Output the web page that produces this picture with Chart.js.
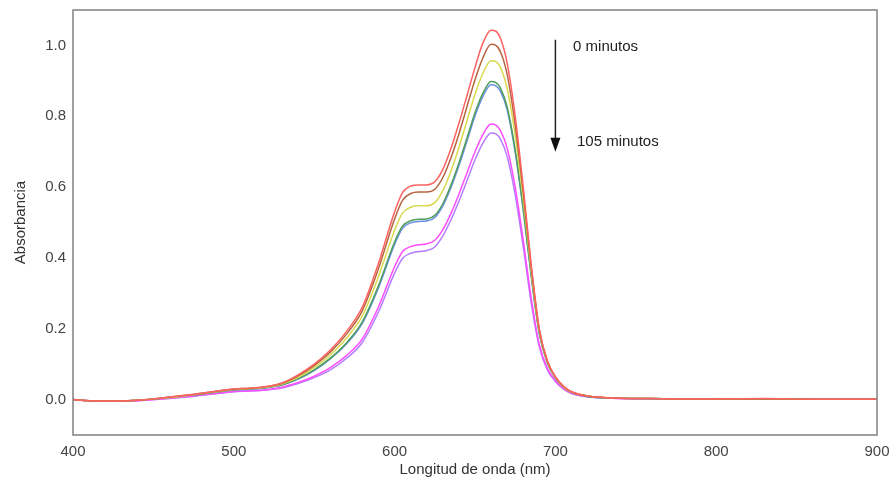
<!DOCTYPE html>
<html>
<head>
<meta charset="utf-8">
<script src="https://cdn.jsdelivr.net/npm/chart.js@4/dist/chart.umd.min.js"></script>
<style>
    html, body { margin: 0; padding: 0; background: #fff; }
    #wrap { width: 891px; height: 482px; }
</style>
</head>
<body>
<div id="wrap"><canvas id="chartAbs"></canvas></div>
<script>
// longitudes de onda (nm)
const wavelengths = [400,410,420,430,440,450,460,470,480,490,500,510,520,530,540,550,560,570,580,590,
    600,605,610,615,620,625,630,635,640,645,650,655,660,663,666,670,675,680,685,690,695,700,705,710,
    720,730,740,760,780,800,830,860,900];

// absorbancia de cada espectro (0 -> 105 minutos)
const abs0 = [0.000,-0.003,-0.004,-0.004,-0.002,0.002,0.007,0.012,0.018,0.024,0.030,0.032,0.037,0.047,0.070,0.100,0.140,0.192,0.262,0.385,
    0.530,0.585,0.603,0.606,0.606,0.615,0.650,0.708,0.780,0.858,0.938,1.008,1.043,1.040,1.018,0.950,0.800,0.600,0.380,0.200,0.110,0.065,0.038,0.022,
    0.010,0.006,0.004,0.003,0.002,0.002,0.003,0.001,0.001];
const abs15 = [0.000,-0.003,-0.004,-0.004,-0.002,0.002,0.007,0.012,0.018,0.024,0.030,0.032,0.036,0.046,0.067,0.096,0.134,0.184,0.252,0.370,
    0.510,0.563,0.582,0.586,0.586,0.594,0.627,0.682,0.750,0.827,0.903,0.966,1.003,1.000,0.980,0.918,0.775,0.585,0.372,0.197,0.108,0.064,0.037,0.022,
    0.010,0.006,0.004,0.003,0.002,0.002,0.002,0.001,0.001];
const abs30 = [0.000,-0.003,-0.004,-0.004,-0.002,0.002,0.006,0.011,0.017,0.023,0.029,0.031,0.035,0.044,0.063,0.090,0.126,0.173,0.237,0.348,
    0.478,0.527,0.543,0.547,0.547,0.556,0.590,0.645,0.712,0.787,0.862,0.922,0.957,0.954,0.936,0.878,0.745,0.565,0.362,0.193,0.106,0.063,0.036,0.021,
    0.010,0.006,0.004,0.003,0.002,0.002,0.002,0.001,0.001];
const abs45 = [0.000,-0.003,-0.004,-0.004,-0.002,0.002,0.006,0.011,0.016,0.022,0.028,0.030,0.034,0.042,0.059,0.084,0.117,0.160,0.220,0.322,
    0.445,0.490,0.505,0.509,0.510,0.520,0.553,0.605,0.668,0.738,0.810,0.866,0.898,0.895,0.878,0.826,0.705,0.540,0.350,0.188,0.104,0.062,0.036,0.021,
    0.009,0.005,0.004,0.003,0.002,0.002,0.002,0.001,0.001];
const abs60 = [0.000,-0.003,-0.004,-0.004,-0.002,0.002,0.006,0.011,0.016,0.022,0.027,0.029,0.033,0.041,0.058,0.082,0.115,0.157,0.216,0.316,
    0.438,0.484,0.499,0.503,0.504,0.514,0.547,0.598,0.660,0.730,0.801,0.857,0.889,0.886,0.869,0.818,0.698,0.535,0.347,0.186,0.103,0.061,0.035,0.020,
    0.009,0.005,0.004,0.003,0.002,0.002,0.002,0.001,0.001];
const abs90 = [0.000,-0.003,-0.004,-0.004,-0.003,0.000,0.004,0.008,0.013,0.018,0.023,0.025,0.028,0.035,0.048,0.066,0.090,0.124,0.172,0.262,
    0.375,0.418,0.432,0.437,0.440,0.450,0.480,0.525,0.580,0.640,0.700,0.749,0.778,0.775,0.758,0.710,0.600,0.450,0.285,0.155,0.088,0.053,0.031,0.018,
    0.008,0.005,0.003,0.002,0.002,0.001,0.001,0.001,0.001];
const abs105 = [0.000,-0.003,-0.004,-0.004,-0.003,0.000,0.003,0.007,0.012,0.017,0.022,0.024,0.027,0.033,0.045,0.062,0.084,0.116,0.162,0.248,
    0.357,0.399,0.413,0.418,0.421,0.431,0.462,0.507,0.560,0.618,0.677,0.725,0.753,0.750,0.734,0.686,0.578,0.432,0.272,0.148,0.084,0.051,0.030,0.017,
    0.008,0.005,0.003,0.002,0.002,0.001,0.001,0.001,0.001];

const seriesNames = ['0 min', '15 min', '30 min', '45 min', '60 min', '90 min', '105 min'];
const seriesColors = ['#ff6262', '#b5653f', '#d9d94e', '#4f9f5c', '#6a8ee6', '#ff4dff', '#b47cff'];
const seriesValues = [abs0, abs15, abs30, abs45, abs60, abs90, abs105];

const xTicks = [400, 500, 600, 700, 800, 900];
const yTicks = [0, 0.2, 0.4, 0.6, 0.8, 1.0];

// flecha y textos de la anotación (en unidades de los ejes)
const arrowX = 700, arrowTop = 1.016, arrowTip = 0.70;
const noteTop = { x: 711, y: 0.996, text: '0 minutos' };
const noteBottom = { x: 713.4, y: 0.728, text: '105 minutos' };

const frameAndNotes = {
    id: 'frameAndNotes',
    afterDraw(chart) {
        const ctx = chart.ctx;
        const a = chart.chartArea;
        const xs = chart.scales.x, ys = chart.scales.y;
        ctx.save();
        // marco
        ctx.strokeStyle = '#808080';
        ctx.lineWidth = 1.5;
        ctx.strokeRect(a.left, a.top, a.right - a.left, a.bottom - a.top);
        // flecha
        const px = xs.getPixelForValue(arrowX);
        const y1 = ys.getPixelForValue(arrowTop);
        const y2 = ys.getPixelForValue(arrowTip);
        ctx.strokeStyle = '#222';
        ctx.lineWidth = 1.5;
        ctx.beginPath();
        ctx.moveTo(px, y1);
        ctx.lineTo(px, y2 - 10);
        ctx.stroke();
        ctx.fillStyle = '#111';
        ctx.beginPath();
        ctx.moveTo(px - 5, y2 - 14);
        ctx.lineTo(px + 5, y2 - 14);
        ctx.lineTo(px, y2);
        ctx.closePath();
        ctx.fill();
        // textos
        ctx.font = '15px "Liberation Sans", Arial, sans-serif';
        ctx.fillStyle = '#222';
        ctx.textBaseline = 'middle';
        ctx.textAlign = 'left';
        [noteTop, noteBottom].forEach(n => {
            ctx.fillText(n.text, xs.getPixelForValue(n.x), ys.getPixelForValue(n.y));
        });
        ctx.restore();
    }
};

document.addEventListener('DOMContentLoaded', () => {
    new Chart(
        document.querySelector('#chartAbs'),
        {
            type: 'line',
            data: {
                datasets: seriesValues.map((vals, i) => ({
                    label: seriesNames[i],
                    data: vals.map((v, j) => ({ x: wavelengths[j], y: v })),
                    borderColor: seriesColors[i],
                    backgroundColor: seriesColors[i],
                    borderWidth: 1.5,
                    pointRadius: 0,
                    cubicInterpolationMode: 'monotone'
                }))
            },
            options: {
                responsive: true,
                maintainAspectRatio: false,
                animation: false,
                layout: { padding: { left: 12, right: 14, top: 10, bottom: 3 } },
                plugins: {
                    legend: { display: false },
                    tooltip: { enabled: false }
                },
                scales: {
                    x: {
                        type: 'linear',
                        min: 400,
                        max: 900,
                        grid: { display: false, drawTicks: false },
                        border: { display: false },
                        afterBuildTicks: s => { s.ticks = xTicks.map(v => ({ value: v })); },
                        afterFit: s => { s.height = 44; s.paddingLeft = 0; s.paddingRight = 0; },
                        ticks: {
                            padding: 8,
                            color: '#444',
                            font: { size: 15, family: '"Liberation Sans", Arial, sans-serif' },
                            callback: v => String(v)
                        },
                        title: {
                            display: true,
                            text: 'Longitud de onda (nm)',
                            color: '#333',
                            padding: 0,
                            font: { size: 15, family: '"Liberation Sans", Arial, sans-serif' }
                        }
                    },
                    y: {
                        min: -0.1,
                        max: 1.1,
                        grid: { display: false, drawTicks: false },
                        border: { display: false },
                        afterBuildTicks: s => { s.ticks = yTicks.map(v => ({ value: v })); },
                        afterFit: s => { s.width = 61; s.paddingTop = 0; s.paddingBottom = 0; },
                        ticks: {
                            padding: 7,
                            color: '#444',
                            font: { size: 15, family: '"Liberation Sans", Arial, sans-serif' },
                            callback: v => v.toFixed(1)
                        },
                        title: {
                            display: true,
                            text: 'Absorbancia',
                            color: '#333',
                            padding: 0,
                            font: { size: 15, family: '"Liberation Sans", Arial, sans-serif' }
                        }
                    }
                }
            },
            plugins: [frameAndNotes]
        }
    );
});
</script>
</body>
</html>
